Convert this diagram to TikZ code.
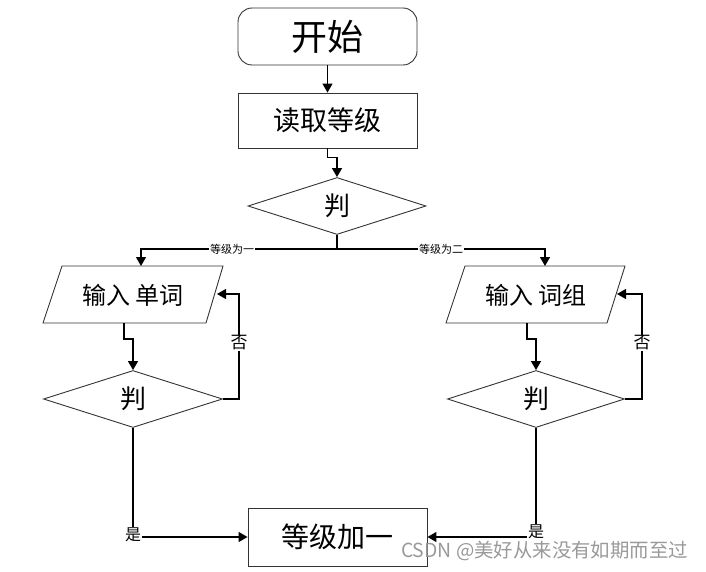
\documentclass[tikz,border=0pt]{standalone}
\usepackage{fontspec}
\newfontfamily\cjk{Noto Sans CJK SC}
\usetikzlibrary{arrows.meta,shapes.geometric}
\tikzset{
  box/.style={draw=black!80, line width=0.9pt, minimum width=179pt, inner sep=0pt},
  dia/.style={draw=black!80, line width=0.9pt, diamond, inner sep=0pt, minimum width=178pt, minimum height=57pt, font=\cjk\fontsize{26}{28}\selectfont},
  para/.style={draw=black!80, line width=0.9pt},
  txt/.style={inner sep=0pt, font=\cjk\fontsize{24}{28}\selectfont},
  conn/.style={line width=1.3pt, draw=black},
  arr/.style={conn, -{Triangle[length=9pt,width=10pt]}},
  lab/.style={fill=white, inner sep=1pt, font=\cjk\fontsize{11}{13}\selectfont},
  lab2/.style={fill=white, inner sep=1pt, font=\cjk\fontsize{17}{19}\selectfont},
}
\begin{document}
\begin{tikzpicture}[x=1pt,y=-1pt]
\useasboundingbox (0,0) rectangle (706,572);
% nodes
\node[box, rounded corners=14pt, minimum height=57pt, font=\cjk\fontsize{36}{40}\selectfont] (start) at (327.5,36.5) {开始};
\node[box, minimum height=55pt, font=\cjk\fontsize{27}{30}\selectfont] (read) at (327.5,120.5) {读取等级};
\node[dia] (d0) at (337,206) {判};
% left parallelogram
\draw[para] (62,266) -- (223,266) -- (206,323) -- (43,323) -- cycle;
\node[txt] (p1) at (133,295) {输入 单词};
% right parallelogram
\draw[para] (465,266) -- (625,266) -- (607,323) -- (446,323) -- cycle;
\node[txt] (p2) at (536,295) {输入 词组};
\node[dia, minimum width=179pt] (dl) at (133,399) {判};
\node[dia, minimum width=177pt] (dr) at (536,399) {判};
\node[box, minimum height=58pt, font=\cjk\fontsize{28}{30}\selectfont] (fin) at (337.5,537) {等级加一};
% coordinates
\coordinate (p1in) at (141,266);
\coordinate (p2in) at (545,266);
\coordinate (p1out) at (124,323);
\coordinate (p2out) at (527,323);
\coordinate (p1back) at (217,294);
\coordinate (p2back) at (617,294);
% connectors
\draw[arr] (start) -- (read);
\draw[arr] (read.south) -- ++(0,9) -| (d0.north);
\draw[conn] (d0.south) -- ++(0,14) coordinate (br);
\draw[arr] (br) -| (p1in);
\draw[arr] (br) -| (p2in);
\node[lab] (l1) at (232,249) {等级为一};
\node[lab] (l2) at (441,249) {等级为二};
\draw[arr] (p1out) -- ++(0,16) -| (dl.north);
\draw[arr] (p2out) -- ++(0,16) -| (dr.north);
\draw[arr] (dl.east) -- (239,399) |- (p1back);
\draw[arr] (dr.east) -- (642,399) |- (p2back);
\node[lab2] (n1) at (239,343) {否};
\node[lab2] (n2) at (642,343) {否};
\draw[arr] (dl.south) |- (fin.west);
\draw[arr] (dr.south) |- (fin.east);
\node[lab2, font=\cjk\fontsize{16}{18}\selectfont] (y1) at (133,535) {是};
\node[lab2, font=\cjk\fontsize{16}{18}\selectfont] (y2) at (536,532) {是};
\node[inner sep=0pt, text=black!40, font=\cjk\fontsize{19.4}{21}\selectfont] (wm) at (544.5,551) {CSDN @美好从来没有如期而至过};
\end{tikzpicture}
\end{document}
